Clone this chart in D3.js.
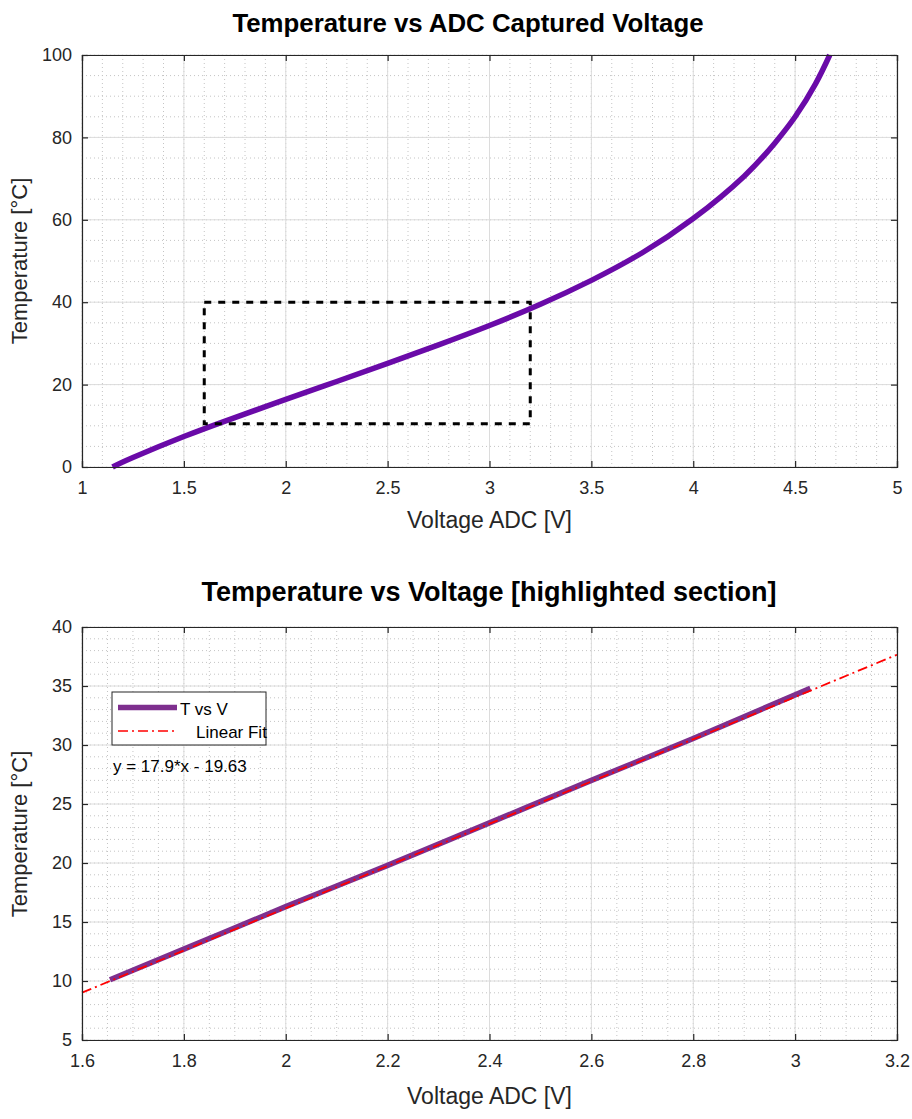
<!DOCTYPE html>
<html>
<head>
<meta charset="utf-8">
<script src="https://cdn.jsdelivr.net/npm/d3@7"></script>
<style>
  html, body { margin: 0; padding: 0; background: #fff; }
  svg { display: block; font-family: "Liberation Sans", Arial, sans-serif; }
</style>
</head>
<body>
<svg id="chart" width="912" height="1119"></svg>
<script>
// Thermistor response: ADC voltage [V] vs temperature [°C]
const voltage = [1.15, 1.25, 1.5, 1.75, 2.0, 2.25, 2.5, 2.75, 3.0, 3.25, 3.5, 3.75, 4.0, 4.25, 4.4, 4.5, 4.6, 4.67];
const temperature = [0, 2.3, 7.4, 12.0, 16.4, 20.75, 25.15, 29.65, 34.35, 39.5, 45.3, 52.0, 60.3, 70.6, 78.6, 85.0, 93.0, 100];

// Highlighted section (the region 1.6–3.2 V)
const sectionVoltage = [1.655, 1.8, 2.0, 2.2, 2.4, 2.6, 2.8, 3.03];
const sectionTemperature = [10.1, 12.7, 16.3, 19.8, 23.4, 27.0, 30.55, 34.8];

// Linear fit of the section: y = 17.9*x - 19.63
const fitSlope = 17.9;
const fitIntercept = -19.63;
const fitRange = [1.6, 3.2];

// Highlight box drawn on the full curve
const boxVoltage = [1.6, 3.2];
const boxTemperature = [10.5, 40];

// Axis ticks
const topXTicks = [1, 1.5, 2, 2.5, 3, 3.5, 4, 4.5, 5];
const topYTicks = [0, 20, 40, 60, 80, 100];
const botXTicks = [1.6, 1.8, 2, 2.2, 2.4, 2.6, 2.8, 3, 3.2];
const botYTicks = [5, 10, 15, 20, 25, 30, 35, 40];

const svg = d3.select("#chart");
const axisColor = "#262626";

function drawPanel(opts) {
  const { left, right, top, bottom, xDomain, yDomain, xTicks, yTicks, xMinor, yMinor } = opts;
  const x = d3.scaleLinear().domain(xDomain).range([left, right]);
  const y = d3.scaleLinear().domain(yDomain).range([bottom, top]);
  const g = svg.append("g");

  g.append("rect").attr("x", left).attr("y", top)
    .attr("width", right - left).attr("height", bottom - top).attr("fill", "#fff");

  // minor grid (dotted)
  const xm = d3.range(Math.round((xDomain[1] - xDomain[0]) / xMinor) + 1).map(i => xDomain[0] + i * xMinor);
  const ym = d3.range(Math.round((yDomain[1] - yDomain[0]) / yMinor) + 1).map(i => yDomain[0] + i * yMinor);
  g.append("g").selectAll("line").data(xm).join("line")
    .attr("x1", d => x(d)).attr("x2", d => x(d)).attr("y1", top).attr("y2", bottom)
    .attr("stroke", "#c4c4c4").attr("stroke-width", 1).attr("stroke-dasharray", "1,3");
  g.append("g").selectAll("line").data(ym).join("line")
    .attr("x1", left).attr("x2", right).attr("y1", d => y(d)).attr("y2", d => y(d))
    .attr("stroke", "#c4c4c4").attr("stroke-width", 1).attr("stroke-dasharray", "1,3");

  // major grid
  g.append("g").selectAll("line").data(xTicks).join("line")
    .attr("x1", d => x(d)).attr("x2", d => x(d)).attr("y1", top).attr("y2", bottom)
    .attr("stroke", "#dcdcdc").attr("stroke-width", 1);
  g.append("g").selectAll("line").data(yTicks).join("line")
    .attr("x1", left).attr("x2", right).attr("y1", d => y(d)).attr("y2", d => y(d))
    .attr("stroke", "#dcdcdc").attr("stroke-width", 1);

  return { x, y, g };
}

function drawFrame(p, opts) {
  const { left, right, top, bottom, xTicks, yTicks } = opts;
  const { x, y } = p;
  const g = svg.append("g");
  const tickLen = 6;
  // Inward ticks on all four sides
  const xb = d3.axisBottom(x).tickValues(xTicks).tickSize(-tickLen).tickPadding(14).tickFormat(d3.format("~g"));
  const xt = d3.axisTop(x).tickValues(xTicks).tickSize(-tickLen).tickFormat("");
  const yl = d3.axisLeft(y).tickValues(yTicks).tickSize(-tickLen).tickPadding(10).tickFormat(d3.format("~g"));
  const yr = d3.axisRight(y).tickValues(yTicks).tickSize(-tickLen).tickFormat("");
  [[xb, `translate(0,${bottom})`], [xt, `translate(0,${top})`],
   [yl, `translate(${left},0)`], [yr, `translate(${right},0)`]].forEach(([ax, tr]) => {
    const a = g.append("g").attr("transform", tr).call(ax);
    a.select(".domain").attr("stroke", axisColor).attr("stroke-width", 1.2);
    a.selectAll(".tick line").attr("stroke", axisColor).attr("stroke-width", 1.2);
    a.selectAll(".tick text").attr("fill", axisColor).style("font-size", "18px")
      .style("font-family", "'Liberation Sans', Arial, sans-serif");
  });
}

// ---------- Top panel ----------
const topOpts = {
  left: 82, right: 897, top: 55, bottom: 467,
  xDomain: [1, 5], yDomain: [0, 100], xTicks: topXTicks, yTicks: topYTicks, xMinor: 0.1, yMinor: 5
};
const p1 = drawPanel(topOpts);

const curveData = voltage.map((v, i) => ({ v, t: temperature[i] }));
p1.g.append("path").datum(curveData)
  .attr("fill", "none").attr("stroke", "#6a0aa8").attr("stroke-width", 5.5)
  .attr("d", d3.line().x(d => p1.x(d.v)).y(d => p1.y(d.t)).curve(d3.curveNatural));

// dashed highlight box
p1.g.append("rect")
  .attr("x", p1.x(boxVoltage[0])).attr("y", p1.y(boxTemperature[1]))
  .attr("width", p1.x(boxVoltage[1]) - p1.x(boxVoltage[0]))
  .attr("height", p1.y(boxTemperature[0]) - p1.y(boxTemperature[1]))
  .attr("fill", "none").attr("stroke", "#000").attr("stroke-width", 3)
  .attr("stroke-dasharray", "7,7");

drawFrame(p1, topOpts);

svg.append("text").attr("x", 468).attr("y", 32).attr("text-anchor", "middle")
  .style("font-size", "25.8px").style("font-weight", "bold").attr("fill", "#000")
  .text("Temperature vs ADC Captured Voltage");
svg.append("text").attr("x", 489.5).attr("y", 528).attr("text-anchor", "middle")
  .style("font-size", "23px").attr("fill", axisColor).text("Voltage ADC [V]");
svg.append("text").attr("transform", "translate(27,261) rotate(-90)").attr("text-anchor", "middle")
  .style("font-size", "22px").attr("fill", axisColor).text("Temperature [°C]");

// ---------- Bottom panel ----------
const botOpts = {
  left: 82, right: 897, top: 627, bottom: 1040,
  xDomain: [1.6, 3.2], yDomain: [5, 40], xTicks: botXTicks, yTicks: botYTicks, xMinor: 0.05, yMinor: 1
};
const p2 = drawPanel(botOpts);

const sectionData = sectionVoltage.map((v, i) => ({ v, t: sectionTemperature[i] }));
p2.g.append("path").datum(sectionData)
  .attr("fill", "none").attr("stroke", "#7e2f8e").attr("stroke-width", 5.5)
  .attr("d", d3.line().x(d => p2.x(d.v)).y(d => p2.y(d.t)).curve(d3.curveMonotoneX));

const fitData = fitRange.map(v => ({ v, t: fitSlope * v + fitIntercept }));
p2.g.append("path").datum(fitData)
  .attr("fill", "none").attr("stroke", "#ff0000").attr("stroke-width", 1.8)
  .attr("stroke-dasharray", "10,4,2,4")
  .attr("d", d3.line().x(d => p2.x(d.v)).y(d => p2.y(d.t)));

drawFrame(p2, botOpts);

// legend
const lg = svg.append("g");
lg.append("rect").attr("x", 112).attr("y", 692).attr("width", 154).attr("height", 53)
  .attr("fill", "#fff").attr("stroke", "#262626").attr("stroke-width", 1);
lg.append("line").attr("x1", 118).attr("x2", 177).attr("y1", 707.5).attr("y2", 707.5)
  .attr("stroke", "#7e2f8e").attr("stroke-width", 5.5);
lg.append("text").attr("x", 180).attr("y", 715).style("font-size", "17px").attr("fill", "#000").text("T vs V");
lg.append("line").attr("x1", 118).attr("x2", 177).attr("y1", 731).attr("y2", 731)
  .attr("stroke", "#ff0000").attr("stroke-width", 1.5).attr("stroke-dasharray", "10,4,2,4");
lg.append("text").attr("x", 196).attr("y", 738).style("font-size", "17px").attr("fill", "#000").text("Linear Fit");

svg.append("text").attr("x", 113).attr("y", 772).style("font-size", "17px").attr("fill", "#000")
  .text(`y = ${fitSlope}*x - ${Math.abs(fitIntercept)}`);

svg.append("text").attr("x", 489).attr("y", 601).attr("text-anchor", "middle")
  .style("font-size", "27px").style("font-weight", "bold").attr("fill", "#000")
  .text("Temperature vs Voltage [highlighted section]");
svg.append("text").attr("x", 489.5).attr("y", 1104).attr("text-anchor", "middle")
  .style("font-size", "23px").attr("fill", axisColor).text("Voltage ADC [V]");
svg.append("text").attr("transform", "translate(27,834) rotate(-90)").attr("text-anchor", "middle")
  .style("font-size", "22px").attr("fill", axisColor).text("Temperature [°C]");
</script>
</body>
</html>
